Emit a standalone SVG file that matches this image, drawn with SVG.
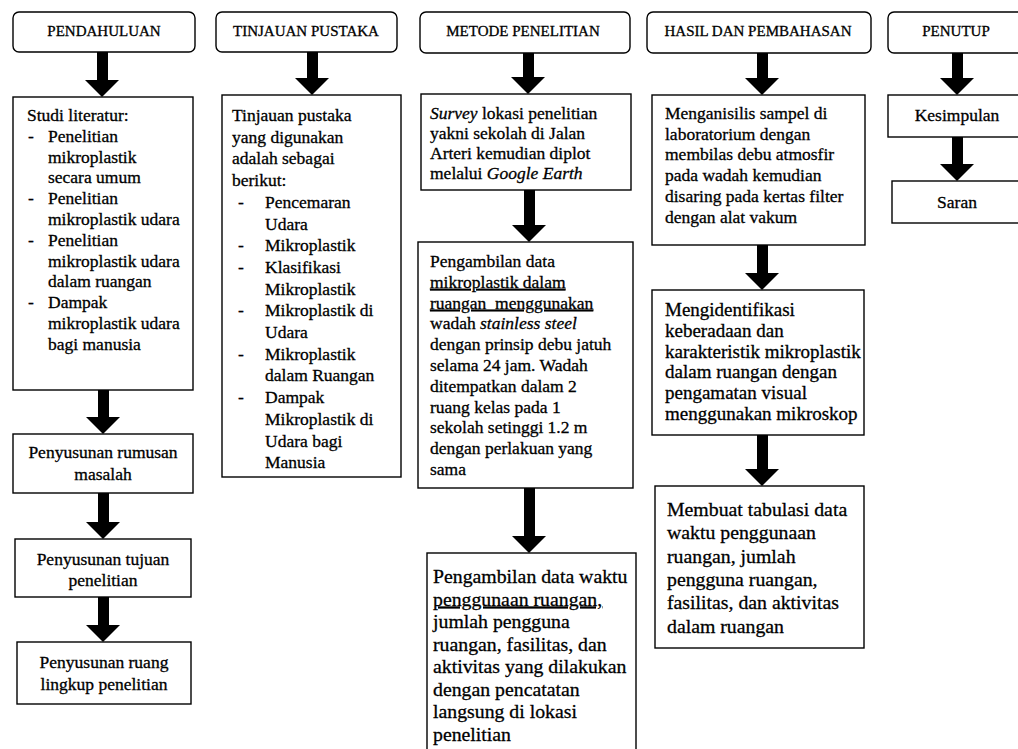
<svg xmlns="http://www.w3.org/2000/svg" width="1018" height="749" viewBox="0 0 1018 749" font-family="Liberation Serif, DejaVu Serif, serif">
<style>
.hd{fill:#fff;stroke:#000;stroke-width:1.4}
.bx{fill:#fff;stroke:#000;stroke-width:1.4}
.ar{fill:#000}
text{font-family:'Liberation Serif','DejaVu Serif',serif;fill:#000;stroke:#000;stroke-width:0.3}
.h{font-size:15px;text-anchor:middle}
.s{font-size:17.5px}
.m{font-size:19px}
.l{font-size:19.8px}
.c{text-anchor:middle}
.u{text-decoration:underline}
.i{font-style:italic}
</style>
<rect width="1018" height="749" fill="#fff"/>
<g id="connectors">
<polygon class="ar" points="97,52 108,52 108,80 119,80 102,97 85,80 97,80"/>
<polygon class="ar" points="98,390 109,390 109,417 120,417 103,434 86,417 98,417"/>
<polygon class="ar" points="98,493 109,493 109,522 120,522 103,539 86,522 98,522"/>
<polygon class="ar" points="98,597 109,597 109,625 120,625 103,642 86,625 98,625"/>
<polygon class="ar" points="307,52 318,52 318,78 329,78 312,95 295,78 307,78"/>
<polygon class="ar" points="523,53 534,53 534,77 545,77 528,94 511,77 523,77"/>
<polygon class="ar" points="524,190 535,190 535,225 546,225 529,242 512,225 524,225"/>
<polygon class="ar" points="524,488 535,488 535,536 546,536 529,553 512,536 524,536"/>
<polygon class="ar" points="757,53 768,53 768,78 779,78 762,95 745,78 757,78"/>
<polygon class="ar" points="757,245 768,245 768,273 779,273 762,290 745,273 757,273"/>
<polygon class="ar" points="757,435 768,435 768,469 779,469 762,486 745,469 757,469"/>
<polygon class="ar" points="952,53 963,53 963,78 974,78 957,95 940,78 952,78"/>
<polygon class="ar" points="952,137 963,137 963,164 974,164 957,181 940,164 952,164"/>
</g>
<g id="h1"><rect class="hd" x="13" y="12" width="182" height="40" rx="6"/><text class="h" x="104" y="36">PENDAHULUAN</text></g>
<g id="h2"><rect class="hd" x="216" y="12" width="181" height="40" rx="6"/><text class="h" x="306" y="36">TINJAUAN PUSTAKA</text></g>
<g id="h3"><rect class="hd" x="420" y="12" width="210" height="41" rx="6"/><text class="h" x="523" y="36">METODE PENELITIAN</text></g>
<g id="h4"><rect class="hd" x="647" y="12" width="224" height="41" rx="6"/><text class="h" x="758" y="36">HASIL DAN PEMBAHASAN</text></g>
<g id="h5"><rect class="hd" x="888" y="12" width="136" height="41" rx="6"/><text class="h" x="956" y="36">PENUTUP</text></g>

<g id="p1"><rect class="bx" x="13" y="97" width="180" height="293"/>
<text class="s" x="27" y="121">Studi literatur:</text>
<text class="s" x="28" y="141.8">-</text><text class="s" x="48" y="141.8">Penelitian</text>
<text class="s" x="48" y="162.6">mikroplastik</text>
<text class="s" x="48" y="183.4">secara umum</text>
<text class="s" x="28" y="204.2">-</text><text class="s" x="48" y="204.2">Penelitian</text>
<text class="s" x="48" y="225">mikroplastik udara</text>
<text class="s" x="28" y="245.8">-</text><text class="s" x="48" y="245.8">Penelitian</text>
<text class="s" x="48" y="266.6">mikroplastik udara</text>
<text class="s" x="48" y="287.4">dalam ruangan</text>
<text class="s" x="28" y="308.2">-</text><text class="s" x="48" y="308.2">Dampak</text>
<text class="s" x="48" y="329">mikroplastik udara</text>
<text class="s" x="48" y="349.8">bagi manusia</text>
</g>
<g id="p2"><rect class="bx" x="13" y="434" width="180" height="59"/>
<text class="s c" x="103" y="458">Penyusunan rumusan</text>
<text class="s c" x="103" y="480">masalah</text></g>
<g id="p3"><rect class="bx" x="15" y="539" width="176" height="58"/>
<text class="s c" x="103" y="565">Penyusunan tujuan</text>
<text class="s c" x="103" y="586">penelitian</text></g>
<g id="p4"><rect class="bx" x="17" y="642" width="174" height="62"/>
<text class="s c" x="104" y="668">Penyusunan ruang</text>
<text class="s c" x="104" y="690">lingkup penelitian</text></g>

<g id="t1"><rect class="bx" x="222" y="95" width="179" height="382"/>
<text class="s" x="232" y="121">Tinjauan pustaka</text>
<text class="s" x="232" y="142.7">yang digunakan</text>
<text class="s" x="232" y="164.4">adalah sebagai</text>
<text class="s" x="232" y="186.1">berikut:</text>
<text class="s" x="238" y="207.8">-</text><text class="s" x="265" y="207.8">Pencemaran</text>
<text class="s" x="265" y="229.5">Udara</text>
<text class="s" x="238" y="251.2">-</text><text class="s" x="265" y="251.2">Mikroplastik</text>
<text class="s" x="238" y="272.9">-</text><text class="s" x="265" y="272.9">Klasifikasi</text>
<text class="s" x="265" y="294.6">Mikroplastik</text>
<text class="s" x="238" y="316.3">-</text><text class="s" x="265" y="316.3">Mikroplastik di</text>
<text class="s" x="265" y="338">Udara</text>
<text class="s" x="238" y="359.7">-</text><text class="s" x="265" y="359.7">Mikroplastik</text>
<text class="s" x="265" y="381.4">dalam Ruangan</text>
<text class="s" x="238" y="403.1">-</text><text class="s" x="265" y="403.1">Dampak</text>
<text class="s" x="265" y="424.8">Mikroplastik di</text>
<text class="s" x="265" y="446.5">Udara bagi</text>
<text class="s" x="265" y="468.2">Manusia</text>
</g>

<g id="m1"><rect class="bx" x="421" y="94" width="210" height="96"/>
<text class="s" x="430" y="119"><tspan class="i">Survey</tspan> lokasi penelitian</text>
<text class="s" x="430" y="139">yakni sekolah di Jalan</text>
<text class="s" x="430" y="159">Arteri kemudian diplot</text>
<text class="s" x="430" y="179">melalui <tspan class="i">Google Earth</tspan></text>
</g>
<g id="m2"><rect class="bx" x="418" y="242" width="215" height="246"/>
<text class="s" x="430" y="267">Pengambilan data</text>
<text class="s u" x="430" y="287.8">mikroplastik dalam</text>
<text class="s u" x="430" y="308.6" style="white-space:pre">ruangan  menggunakan</text>
<text class="s" x="430" y="329.4">wadah <tspan class="i">stainless steel</tspan></text>
<text class="s" x="430" y="350.2">dengan prinsip debu jatuh</text>
<text class="s" x="430" y="371">selama 24 jam. Wadah</text>
<text class="s" x="430" y="391.8">ditempatkan dalam 2</text>
<text class="s" x="430" y="412.6">ruang kelas pada 1</text>
<text class="s" x="430" y="433.4">sekolah setinggi 1.2 m</text>
<text class="s" x="430" y="454.2">dengan perlakuan yang</text>
<text class="s" x="430" y="475">sama</text>
</g>
<g id="m3"><rect class="bx" x="427" y="553" width="209" height="210"/>
<text class="l" x="433" y="583">Pengambilan data waktu</text>
<text class="l u" x="433" y="605.5">penggunaan ruangan,</text>
<text class="l" x="433" y="628">jumlah pengguna</text>
<text class="l" x="433" y="650.5">ruangan, fasilitas, dan</text>
<text class="l" x="433" y="673">aktivitas yang dilakukan</text>
<text class="l" x="433" y="695.5">dengan pencatatan</text>
<text class="l" x="433" y="718">langsung di lokasi</text>
<text class="l" x="433" y="740.5">penelitian</text>
</g>

<g id="r1"><rect class="bx" x="652" y="95" width="213" height="150"/>
<text class="s" x="665" y="119">Menganisilis sampel di</text>
<text class="s" x="665" y="139.7">laboratorium dengan</text>
<text class="s" x="665" y="160.4">membilas debu atmosfir</text>
<text class="s" x="665" y="181.1">pada wadah kemudian</text>
<text class="s" x="665" y="201.8">disaring pada kertas filter</text>
<text class="s" x="665" y="222.5">dengan alat vakum</text>
</g>
<g id="r2"><rect class="bx" x="652" y="290" width="212" height="145"/>
<text class="m" x="665" y="316">Mengidentifikasi</text>
<text class="m" x="665" y="336.8">keberadaan dan</text>
<text class="m" x="665" y="357.6">karakteristik mikroplastik</text>
<text class="m" x="665" y="378.4">dalam ruangan dengan</text>
<text class="m" x="665" y="399.2">pengamatan visual</text>
<text class="m" x="665" y="420">menggunakan mikroskop</text>
</g>
<g id="r3"><rect class="bx" x="655" y="486" width="209" height="162"/>
<text class="l" x="667" y="516">Membuat tabulasi data</text>
<text class="l" x="667" y="539.3">waktu penggunaan</text>
<text class="l" x="667" y="562.6">ruangan, jumlah</text>
<text class="l" x="667" y="585.9">pengguna ruangan,</text>
<text class="l" x="667" y="609.2">fasilitas, dan aktivitas</text>
<text class="l" x="667" y="632.5">dalam ruangan</text>
</g>

<g id="k1"><rect class="bx" x="888" y="95" width="136" height="42"/>
<text class="s c" x="957" y="121">Kesimpulan</text></g>
<g id="k2"><rect class="bx" x="892" y="181" width="132" height="42"/>
<text class="s c" x="957" y="208">Saran</text></g>
</svg>
